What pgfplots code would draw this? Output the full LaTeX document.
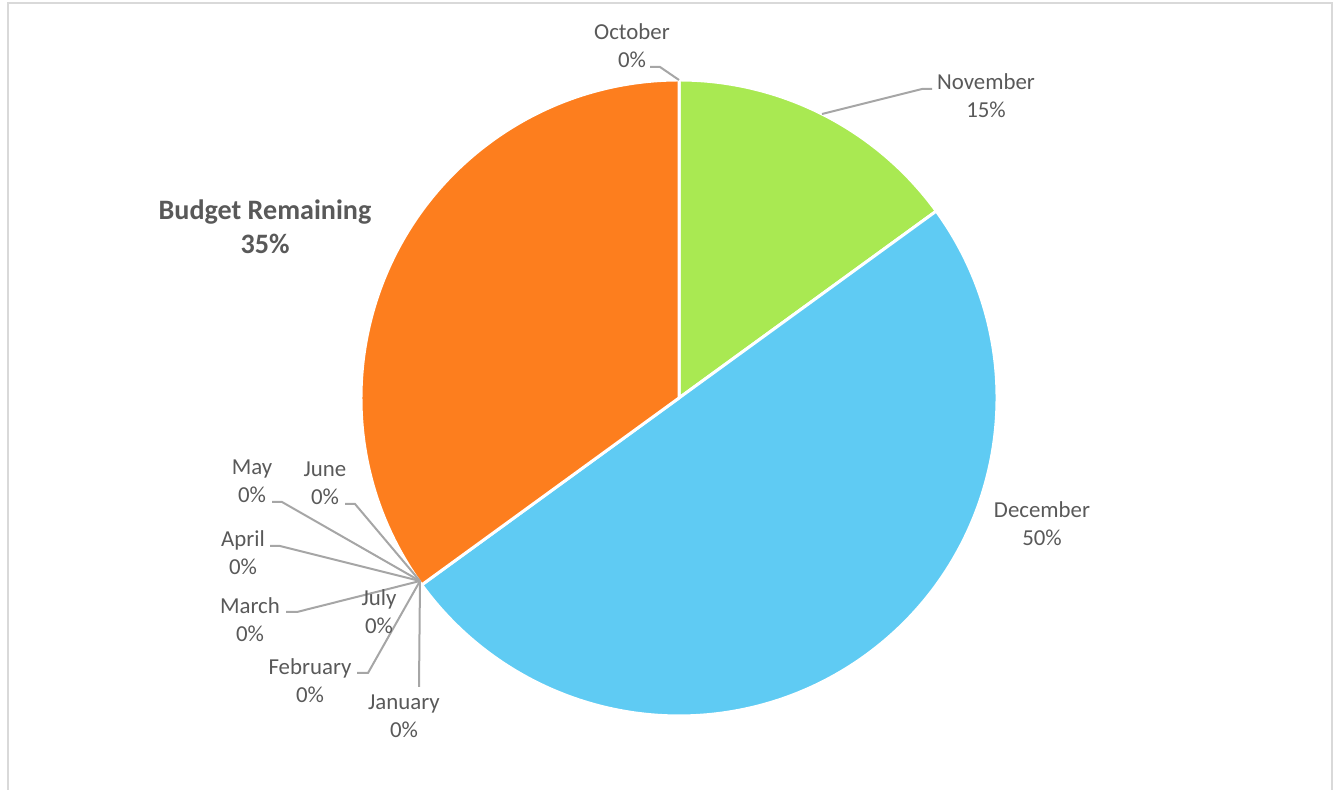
\documentclass[border=0pt]{standalone}
\usepackage{pgfplots}
\pgfplotsset{compat=1.18}
\usepackage{pgfplotstable}
\usepackage{fontspec}
\setmainfont{Carlito}
\definecolor{cNov}{HTML}{A9E952}
\definecolor{cDec}{HTML}{5FCBF3}
\definecolor{cBud}{HTML}{FD7E1E}
\definecolor{txt}{HTML}{595959}
\definecolor{lead}{HTML}{A6A6A6}
\definecolor{frame}{HTML}{D9D9D9}

\pgfplotstableread{
name value color
October 0 white
November 15 cNov
December 50 cDec
January 0 white
February 0 white
March 0 white
April 0 white
May 0 white
June 0 white
July 0 white
Budget 35 cBud
}\piedata

\begin{document}
\begin{tikzpicture}[
  lbl/.style={font=\fontsize{6.5}{8}\selectfont, text=txt, align=center, inner sep=0pt},
  bud/.style={font=\fontsize{8}{9.7}\selectfont\bfseries, text=txt, align=center, inner sep=0pt},
]
\begin{axis}[
  x=0.1mm, y=0.1mm,
  xmin=0, xmax=1335, ymin=0, ymax=790,
  hide axis, clip=false,
]
\pgfplotsextra{
  \path (axis cs:0,0) rectangle (axis cs:1335,790);
  \draw[frame, line width=0.2mm] (axis cs:8,0) -- (axis cs:8,787) -- (axis cs:1332,787) -- (axis cs:1332,0);
  \def\startangle{90}
  \pgfplotsforeachungrouped \i in {0,...,10}{%
    \pgfplotstablegetelem{\i}{value}\of\piedata
    \pgfmathsetmacro\endangle{\startangle-3.6*\pgfplotsretval}%
    \pgfplotstablegetelem{\i}{color}\of\piedata
    \let\slicecolor\pgfplotsretval
    \ifdim \endangle pt < \startangle pt
      \fill[fill=\slicecolor, draw=white, line width=0.3mm, line join=round]
        (axis cs:679,392) -- ++(\startangle:3.18cm)
        arc[start angle=\startangle, end angle=\endangle, radius=3.18cm] -- cycle;
    \fi
    \global\let\startangle\endangle
  }
}
% leader lines
\addplot[lead, line width=0.2mm] coordinates {(650,723) (660,723) (679,710)};
\addplot[lead, line width=0.2mm] coordinates {(932,701) (922,701) (822,676)};
\addplot[lead, line width=0.2mm] coordinates {(272,288) (282,288) (420,209)};
\addplot[lead, line width=0.2mm] coordinates {(345,286) (355,286) (420,209)};
\addplot[lead, line width=0.2mm] coordinates {(270,244) (280,244) (420,209)};
\addplot[lead, line width=0.2mm] coordinates {(286,178) (297,178) (420,209)};
\addplot[lead, line width=0.2mm] coordinates {(357,117) (368,117) (420,209)};
\addplot[lead, line width=0.2mm] coordinates {(419,103) (420,209)};
% labels
\node[lbl] at (axis cs:632,744) {October\\0\%};
\node[lbl] at (axis cs:986,694) {November\\15\%};
\node[lbl] at (axis cs:1042,266) {December\\50\%};
\node[bud] at (axis cs:265,563) {Budget Remaining\\35\%};
\node[lbl] at (axis cs:252,309) {May\\0\%};
\node[lbl] at (axis cs:325,307) {June\\0\%};
\node[lbl] at (axis cs:243,237) {April\\0\%};
\node[lbl] at (axis cs:250,170) {March\\0\%};
\node[lbl] at (axis cs:379,178) {July\\0\%};
\node[lbl] at (axis cs:310,109) {February\\0\%};
\node[lbl] at (axis cs:404,74) {January\\0\%};
\end{axis}
\end{tikzpicture}
\end{document}
